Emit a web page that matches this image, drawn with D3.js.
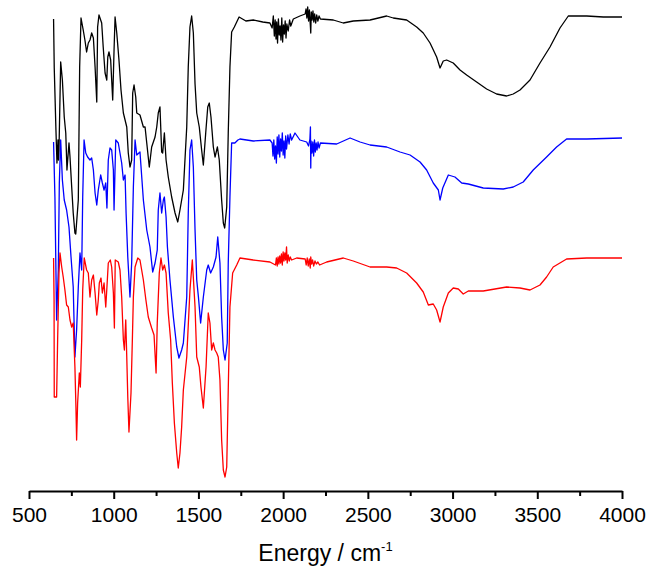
<!DOCTYPE html>
<html>
<head>
<meta charset="utf-8">
<script src="https://cdn.jsdelivr.net/npm/d3@7.9.0/dist/d3.min.js"></script>
<style>
  html, body { margin: 0; padding: 0; background: #fff; }
  svg { display: block; font-family: Arial, "Liberation Sans", sans-serif; }
</style>
</head>
<body>
<svg width="648" height="571"></svg>
<script>
// spectra: [wavenumber (cm-1), offset signal (a.u.)]
const blackSpectrum = [
  [645,94.4],[649,84.6],[659,72.2],[665,65.6],[671,70.2],[674,66.2],[677,68.2],[687,85.8],[697,82.2],[708,74.8],
  [717,71.6],[724,64.2],[736,69.6],[742,66.8],[752,60.8],[761,55.6],[771,51.6],[776,51.4],[791,58.2],[799,84.8],
  [807,94.6],[820,92.2],[830,90.2],[840,87.8],[850,89.6],[860,90.2],[870,91.6],[880,90.6],[890,84.8],[900,77.8],
  [905,92.8],[913,95.2],[929,93.6],[938,88.8],[949,83.6],[959,82.2],[965,86.8],[972,87.8],[982,86.2],[994,78.2],
  [1002,88.2],[1008,94.8],[1018,91.6],[1031,86.2],[1043,80.2],[1057,75.6],[1067,74.2],[1077,72.8],[1086,67.6],[1096,64.8],
  [1106,66.2],[1112,79.6],[1120,81.2],[1130,78.8],[1136,75.6],[1155,75.2],[1175,72.8],[1185,72.8],[1195,69.6],[1210,64.8],
  [1224,68.8],[1244,70.8],[1254,72.8],[1263,75.6],[1273,76.8],[1283,67.8],[1289,67.6],[1299,71.6],[1309,66.2],[1322,62.8],
  [1342,58.8],[1362,55.6],[1378,53.8],[1391,56.2],[1411,60.2],[1431,72.8],[1440,84.8],[1450,92.8],[1460,95.0],[1470,91.6],
  [1480,81.4],[1490,75.6],[1505,72.8],[1519,68.2],[1529,65.2],[1543,71.6],[1555,76.8],[1564,77.6],[1574,74.8],[1588,68.8],
  [1598,66.8],[1612,68.8],[1623,66.2],[1637,58.2],[1647,53.6],[1655,52.6],[1667,56.8],[1676,71.6],[1686,84.8],[1696,91.8],
  [1712,92.8],[1726,93.8],[1740,94.8],[1780,94.0],[1824,94.2],[1880,93.8],[1922,93.6],
  [1935,92.6],[1942,95.0],[1948,91.0],[1953,94.2],[1958,90.4],[1962,93.8],[1967,89.6],[1972,94.4],[1977,91.2],[1982,93.0],
  [1987,90.2],[1992,94.6],[1997,89.8],[2002,93.2],[2007,91.4],[2012,94.0],[2017,90.6],[2022,93.4],[2030,92.0],[2038,94.2],
  [2045,93.0],[2060,94.4],[2099,95.0],
  [2130,95.4],[2135,96.4],[2140,94.6],[2145,96.8],[2150,94.0],[2155,96.2],[2160,93.4],[2163,91.6],[2166,95.8],[2171,94.2],
  [2176,96.0],[2181,93.8],[2186,95.4],[2192,93.6],[2198,95.2],[2205,94.0],[2212,95.0],[2220,94.4],
  [2296,94.2],[2355,93.6],[2414,94.0],[2513,94.2],[2611,95.0],[2650,94.6],[2729,94.2],[2788,92.8],[2827,91.6],[2867,89.6],
  [2906,86.8],[2926,84.6],[2945,86.0],[2965,86.2],[3004,85.6],[3044,84.2],[3083,83.2],[3142,81.8],[3201,80.4],[3260,79.4],
  [3319,79.0],[3358,79.4],[3398,80.2],[3457,82.2],[3516,85.6],[3575,88.8],[3634,92.6],[3683,95.0],[3792,95.0],[3890,94.8],
  [4000,94.8]
];

const blueSpectrum = [
  [645,69.8],[653,58.8],[663,34.2],[673,44.2],[679,61.6],[687,70.2],[697,62.2],[708,58.2],[722,56.2],[736,52.8],
  [748,46.8],[761,40.8],[771,26.8],[781,32.2],[791,40.8],[801,47.6],[811,44.2],[817,58.8],[825,70.2],[835,67.6],
  [846,66.8],[860,66.2],[870,66.6],[880,64.2],[890,59.6],[900,57.2],[909,60.2],[923,63.2],[933,61.6],[943,60.2],
  [953,61.6],[960,56.6],[968,66.2],[978,68.6],[988,68.2],[998,64.2],[1002,56.2],[1012,70.2],[1027,69.6],[1037,67.6],
  [1047,65.6],[1057,62.2],[1067,63.2],[1073,55.6],[1083,46.8],[1096,38.8],[1106,45.6],[1116,60.8],[1126,70.2],[1136,67.2],
  [1155,67.8],[1175,58.2],[1195,52.2],[1214,48.8],[1230,43.8],[1244,45.6],[1257,48.2],[1263,56.2],[1273,59.6],[1283,55.6],
  [1293,58.2],[1299,58.8],[1309,54.8],[1317,48.8],[1332,42.2],[1352,34.8],[1372,28.8],[1385,26.6],[1401,28.2],[1411,29.6],
  [1431,38.8],[1440,55.6],[1450,68.2],[1460,70.2],[1470,64.8],[1480,52.2],[1490,42.2],[1500,38.8],[1513,33.6],[1529,38.8],
  [1549,44.2],[1558,45.2],[1572,43.6],[1588,44.8],[1604,46.8],[1614,50.8],[1627,45.6],[1637,34.8],[1647,28.2],[1657,26.2],
  [1670,29.6],[1676,45.6],[1686,58.8],[1696,69.6],[1715,69.6],[1733,70.2],[1745,70.4],[1824,70.0],[1922,70.2],
  [1935,69.6],[1940,67.0],[1945,70.2],[1950,66.4],[1955,69.0],[1960,65.6],[1965,70.8],[1970,67.4],[1975,71.2],[1980,66.8],
  [1985,70.4],[1990,68.0],[1995,71.6],[2000,67.2],[2005,70.0],[2010,66.6],[2015,71.0],[2020,68.4],[2028,71.2],[2035,69.4],
  [2042,71.4],[2050,70.2],[2070,71.6],[2099,70.2],[2139,69.8],
  [2150,69.0],[2158,70.4],[2161,72.8],[2163,64.6],[2165,70.0],[2170,67.6],[2175,69.8],[2180,67.0],[2185,70.2],[2190,67.8],
  [2195,69.6],[2200,68.2],[2206,69.8],[2212,68.6],[2220,69.6],
  [2316,69.4],[2395,70.6],[2454,69.8],[2513,69.2],[2611,68.8],[2690,67.8],[2749,67.2],[2808,65.8],[2847,64.2],[2886,61.6],
  [2916,60.2],[2926,58.2],[2942,60.6],[2975,63.2],[3014,62.8],[3054,61.6],[3093,61.4],[3181,60.6],[3299,60.4],[3358,60.8],
  [3417,61.8],[3476,64.2],[3555,66.8],[3614,68.8],[3673,70.4],[3792,70.4],[4000,70.6]
];

const redSpectrum = [
  [645,46.6],[648,38.2],[649,18.8],[663,18.8],[669,30.2],[673,36.8],[677,43.6],[683,47.6],[693,44.8],[702,42.8],
  [712,40.2],[722,37.2],[732,36.8],[742,34.2],[752,32.8],[761,33.6],[771,24.8],[777,16.8],[781,10.2],[787,17.6],
  [797,23.6],[803,20.8],[811,30.2],[817,40.2],[826,46.6],[840,44.2],[850,43.6],[860,38.8],[870,42.2],[880,43.2],
  [890,39.6],[900,35.2],[909,38.2],[915,41.6],[925,42.6],[933,39.6],[943,41.6],[953,36.8],[960,40.8],[968,45.6],
  [980,46.2],[988,44.8],[998,39.6],[1004,32.6],[1009,46.2],[1027,45.8],[1037,44.2],[1047,38.8],[1057,30.2],[1063,28.2],
  [1071,34.2],[1077,26.8],[1083,18.8],[1090,11.8],[1102,19.6],[1110,30.2],[1116,38.8],[1126,44.8],[1142,46.6],[1155,46.2],
  [1175,42.2],[1190,38.2],[1204,34.8],[1224,32.6],[1238,31.2],[1250,23.6],[1257,33.6],[1269,43.6],[1279,46.6],[1289,44.2],
  [1299,45.2],[1309,43.6],[1322,35.6],[1336,30.2],[1346,21.6],[1358,13.6],[1372,7.6],[1381,4.6],[1391,7.6],[1401,12.8],
  [1411,20.2],[1431,26.8],[1450,40.2],[1464,46.2],[1480,36.8],[1490,26.8],[1505,24.8],[1515,20.8],[1529,16.6],[1545,24.8],
  [1558,35.6],[1568,33.6],[1578,28.2],[1588,29.6],[1598,28.2],[1608,27.6],[1617,26.8],[1627,22.2],[1637,10.2],[1647,4.2],
  [1657,2.8],[1667,4.8],[1676,20.2],[1686,36.8],[1702,43.6],[1726,45.2],[1745,46.6],[1824,46.2],[1922,45.8],
  [1955,45.2],[1960,46.6],[1965,45.0],[1970,46.8],[1975,45.4],[1980,47.0],[1985,45.6],[1990,47.4],[1995,45.2],[2000,47.8],
  [2005,46.0],[2010,47.6],[2015,46.2],[2020,48.8],[2024,45.6],[2030,47.2],[2036,46.0],[2042,46.8],[2050,46.2],[2080,46.6],
  [2130,46.4],[2136,45.2],[2142,46.6],[2148,45.0],[2154,46.4],[2160,44.6],[2163,46.8],[2168,45.4],[2174,46.2],[2180,45.0],
  [2188,46.0],[2196,45.4],[2205,45.8],[2215,45.2],
  [2257,45.8],[2355,46.6],[2414,46.0],[2513,44.8],[2611,44.8],[2670,44.6],[2729,43.6],[2788,41.6],[2827,39.8],[2857,37.2],
  [2886,37.4],[2906,36.2],[2926,33.8],[2945,36.8],[2975,39.6],[3004,40.6],[3034,40.4],[3063,39.4],[3093,40.0],[3181,40.0],
  [3319,40.8],[3398,40.6],[3457,40.2],[3516,41.2],[3555,42.8],[3594,44.8],[3673,46.4],[3792,46.6],[4000,46.6]
];

const series = [
  { name: 'black', color: '#000000', values: blackSpectrum },
  { name: 'blue', color: '#0000ff', values: blueSpectrum },
  { name: 'red', color: '#ff0000', values: redSpectrum }
];

const majorTicks = [500, 1000, 1500, 2000, 2500, 3000, 3500, 4000];
const minorTicks = [750, 1250, 1750, 2250, 2750, 3250, 3750];
const xLabel = 'Energy / cm';
const xLabelSup = '-1';

const margin = { top: 0, right: 26, bottom: 80, left: 29 };
const width = 648, height = 571;

const x = d3.scaleLinear().domain([500, 4000]).range([margin.left, width - margin.right]);
const y = d3.scaleLinear().domain([0, 98.2]).range([height - margin.bottom, margin.top]);

const svg = d3.select('svg');

const line = d3.line()
  .x(d => x(d[0]))
  .y(d => y(d[1]));

series.forEach(s => {
  svg.append('path')
    .datum(s.values)
    .attr('fill', 'none')
    .attr('stroke', s.color)
    .attr('stroke-width', 1.3)
    .attr('stroke-linejoin', 'round')
    .attr('d', line);
});

// x axis
const axisY = y(0);
const gx = svg.append('g').attr('transform', `translate(0,${axisY})`);
gx.call(d3.axisBottom(x).tickValues(majorTicks).tickSize(8).tickSizeOuter(0).tickPadding(8).tickFormat(d3.format('d')));
gx.select('.domain').attr('stroke-width', 2);
gx.selectAll('.tick line').attr('stroke-width', 2);
gx.selectAll('.tick text').attr('font-size', 21).attr('font-family', 'Arial, "Liberation Sans", sans-serif').attr('fill', '#000');

const gm = svg.append('g').attr('transform', `translate(0,${axisY})`);
gm.call(d3.axisBottom(x).tickValues(minorTicks).tickSize(5).tickFormat(''));
gm.select('.domain').remove();
gm.selectAll('.tick line').attr('stroke-width', 2);

const title = svg.append('text')
  .attr('x', x(2250))
  .attr('y', 561)
  .attr('text-anchor', 'middle')
  .attr('font-size', 23)
  .attr('fill', '#000');
title.append('tspan').text(xLabel);
title.append('tspan').attr('dy', -10).attr('font-size', 13).text(xLabelSup);
</script>
</body>
</html>
